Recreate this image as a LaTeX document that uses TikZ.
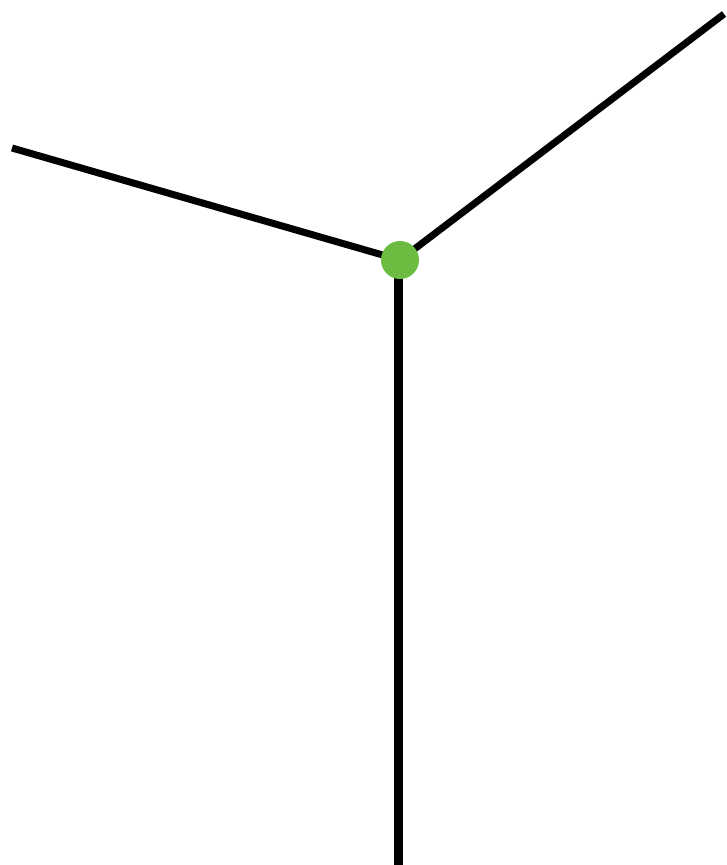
\documentclass[tikz,border=0pt]{standalone}
\usepackage{tikz}
\definecolor{hubgreen}{RGB}{108,188,66}

\begin{document}
\begin{tikzpicture}[x=1pt, y=-1pt,
    rod/.style={draw=black, line width=7pt},
    stem/.style={draw=black, line width=9.5pt},
    hubdot/.style={circle, fill=hubgreen, minimum size=38pt, inner sep=0pt}]
  \useasboundingbox (0,0) rectangle (726,865);
  \coordinate (leftend) at (12,148);
  \coordinate (rightend) at (724,14);
  \coordinate (bottomend) at (398.5,870);
  \coordinate (hubc) at (400,260);
  \draw[rod] (leftend) -- (hubc);
  \draw[rod] (rightend) -- (hubc);
  \draw[stem] (398.5,260) -- (bottomend);
  \node[hubdot] (hub) at (hubc) {};
\end{tikzpicture}
\end{document}
